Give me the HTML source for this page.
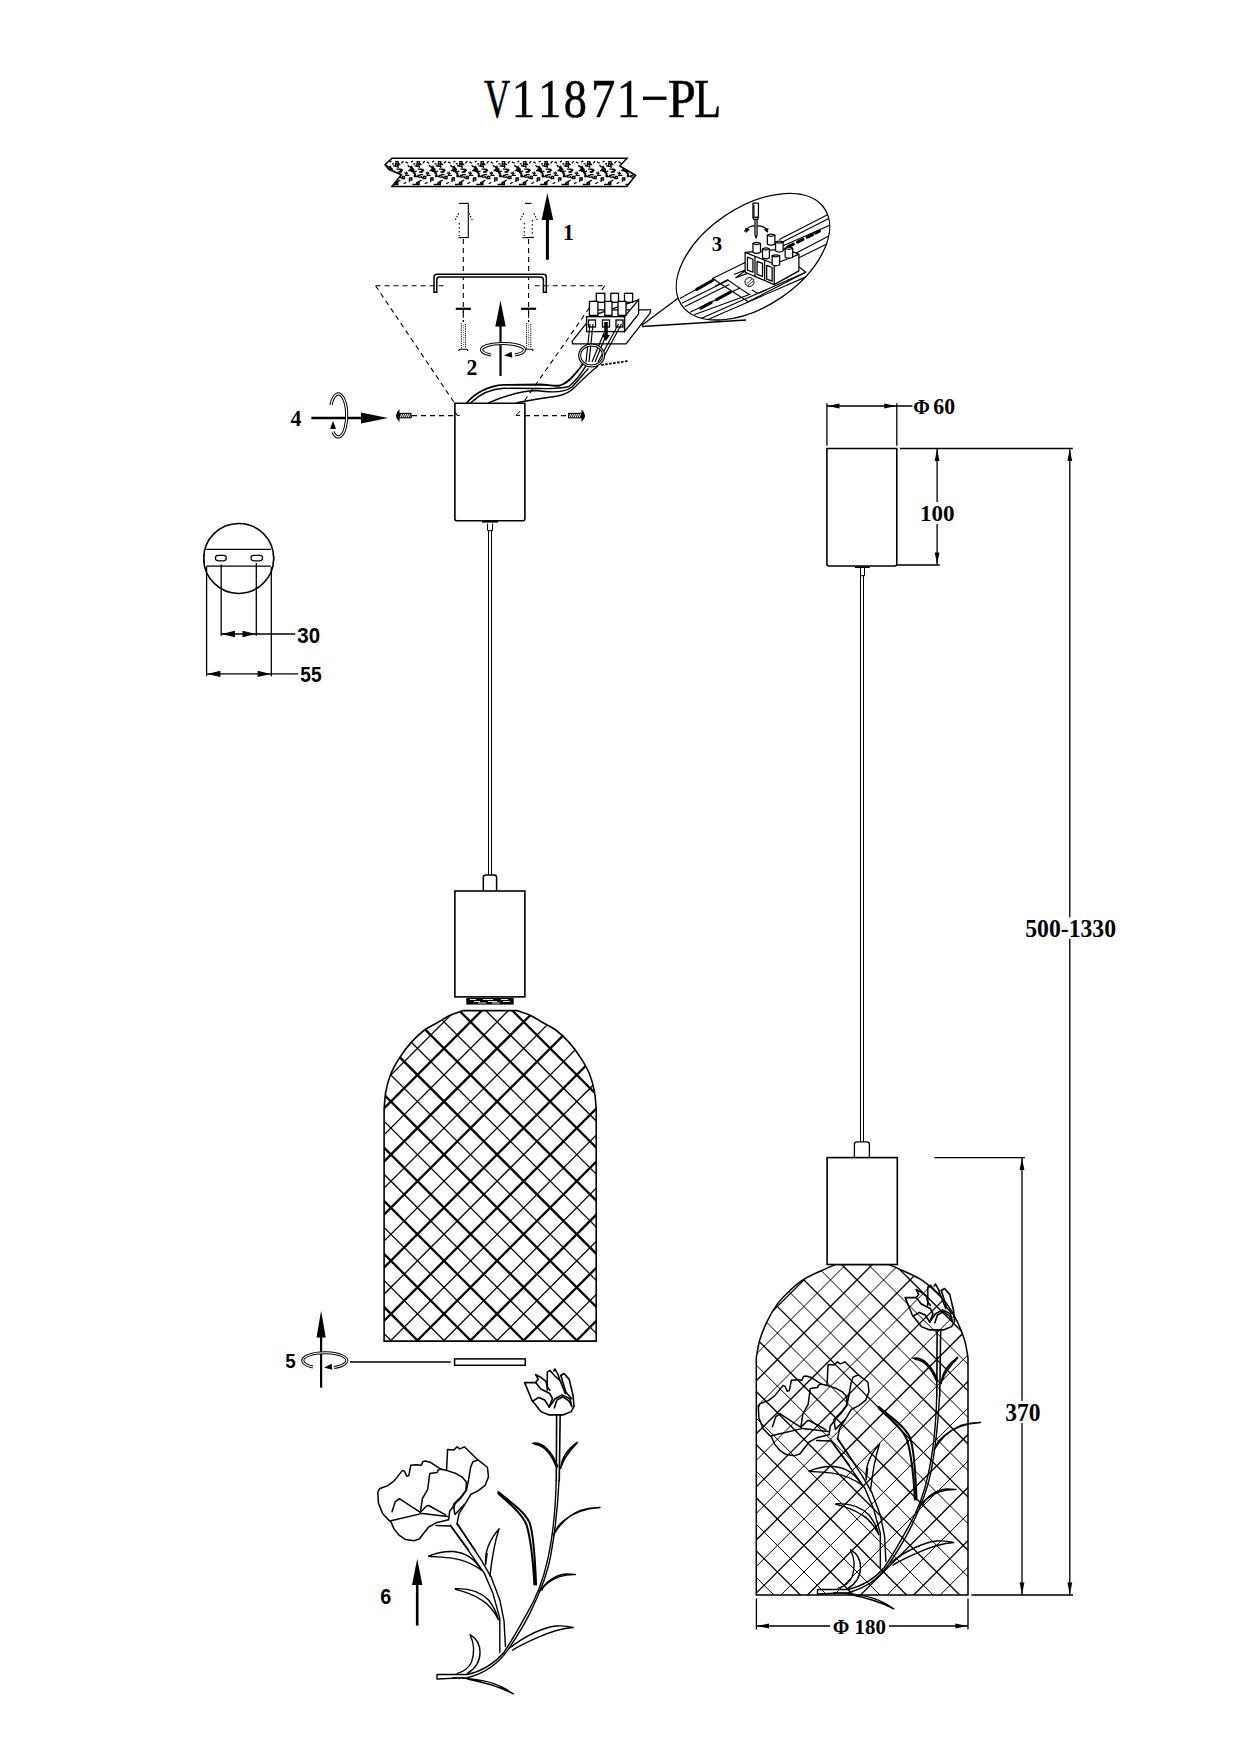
<!DOCTYPE html>
<html><head><meta charset="utf-8"><style>
html,body{margin:0;padding:0;background:#fff;}
svg{display:block;}
.ser{font-family:"Liberation Serif",serif;}
.sans{font-family:"Liberation Sans",sans-serif;}

</style></head><body>
<svg width="1240" height="1754" viewBox="0 0 1240 1754">
<rect width="1240" height="1754" fill="#fff"/>

<defs>
<clipPath id="clipL"><path d="M384.1,1341.1 L384.1,1109.4 C384.38,1106.48 384.72,1097.72 385.80,1091.90 C386.88,1086.08 388.33,1080.13 390.60,1074.50 C392.87,1068.87 396.00,1063.42 399.40,1058.10 C402.80,1052.78 406.82,1047.28 411.00,1042.60 C415.18,1037.92 419.98,1033.38 424.50,1030.00 C429.02,1026.62 433.90,1024.72 438.10,1022.30 C442.30,1019.88 445.52,1017.45 449.70,1015.50 C453.88,1013.55 460.95,1011.42 463.20,1010.60 L517.10,1010.6 C519.35,1011.42 526.42,1013.55 530.60,1015.50 C534.78,1017.45 538.00,1019.88 542.20,1022.30 C546.40,1024.72 551.28,1026.62 555.80,1030.00 C560.32,1033.38 565.12,1037.92 569.30,1042.60 C573.48,1047.28 577.50,1052.78 580.90,1058.10 C584.30,1063.42 587.43,1068.87 589.70,1074.50 C591.97,1080.13 593.42,1086.08 594.50,1091.90 C595.58,1097.72 595.92,1106.48 596.20,1109.40 L596.2,1341.1 Z"/></clipPath>
<clipPath id="clipR"><path d="M756.3,1595 L756.3,1357.6 C756.87,1354.70 757.93,1346.17 759.70,1340.20 C761.47,1334.23 764.00,1327.77 766.90,1321.80 C769.80,1315.83 773.30,1309.57 777.10,1304.40 C780.90,1299.23 785.35,1294.92 789.70,1290.80 C794.05,1286.68 798.05,1283.00 803.20,1279.70 C808.35,1276.40 815.27,1273.52 820.60,1271.00 C825.93,1268.48 832.77,1265.67 835.20,1264.60 L889.10,1264.6 C891.53,1265.67 898.37,1268.48 903.70,1271.00 C909.03,1273.52 915.95,1276.40 921.10,1279.70 C926.25,1283.00 930.25,1286.68 934.60,1290.80 C938.95,1294.92 943.40,1299.23 947.20,1304.40 C951.00,1309.57 954.50,1315.83 957.40,1321.80 C960.30,1327.77 962.83,1334.23 964.60,1340.20 C966.37,1346.17 967.43,1354.70 968.00,1357.60 L968.0,1595 Z"/></clipPath>
<clipPath id="clipPlate"><path d="M392.1,158.2 L626.9,158.2 L619.7,166 L635.6,175.2 L626.9,186.5 L392.1,186.5 L401.3,174.7 L388.7,169.4 L385.1,164.5 Z"/></clipPath>
<clipPath id="clipEll"><ellipse cx="753" cy="256.7" rx="86.2" ry="49.6" transform="rotate(-33.9 753 256.7)"/></clipPath>
</defs>
<text transform="translate(497,117) scale(0.66,1)" text-anchor="middle" class="ser" font-size="55" stroke="#000" stroke-width="0.5">V</text><text transform="translate(523.4,117) scale(0.85,1)" text-anchor="middle" class="ser" font-size="55" stroke="#000" stroke-width="0.5">1</text><text transform="translate(549.6,117) scale(0.85,1)" text-anchor="middle" class="ser" font-size="55" stroke="#000" stroke-width="0.5">1</text><text transform="translate(575.4,117) scale(0.84,1)" text-anchor="middle" class="ser" font-size="55" stroke="#000" stroke-width="0.5">8</text><text transform="translate(603.2,117) scale(0.88,1)" text-anchor="middle" class="ser" font-size="55" stroke="#000" stroke-width="0.5">7</text><text transform="translate(628.4,117) scale(0.85,1)" text-anchor="middle" class="ser" font-size="55" stroke="#000" stroke-width="0.5">1</text><rect x="642.9" y="96.6" width="23.6" height="3.3" fill="#000"/><text transform="translate(681.8,117) scale(0.92,1)" text-anchor="middle" class="ser" font-size="55" stroke="#000" stroke-width="0.5">P</text><text transform="translate(707.7,117) scale(0.8,1)" text-anchor="middle" class="ser" font-size="55" stroke="#000" stroke-width="0.5">L</text>
<g clip-path="url(#clipL)" stroke="#000" fill="none"><line x1="380.00" y1="745.45" x2="600.00" y2="965.45" stroke-width="1.3"/><line x1="380.00" y1="772.00" x2="600.00" y2="992.00" stroke-width="2.3"/><line x1="380.00" y1="798.55" x2="600.00" y2="1018.55" stroke-width="1.3"/><line x1="380.00" y1="825.10" x2="600.00" y2="1045.10" stroke-width="2.3"/><line x1="380.00" y1="851.65" x2="600.00" y2="1071.65" stroke-width="1.3"/><line x1="380.00" y1="878.20" x2="600.00" y2="1098.20" stroke-width="2.3"/><line x1="380.00" y1="904.75" x2="600.00" y2="1124.75" stroke-width="1.3"/><line x1="380.00" y1="931.30" x2="600.00" y2="1151.30" stroke-width="2.3"/><line x1="380.00" y1="957.85" x2="600.00" y2="1177.85" stroke-width="1.3"/><line x1="380.00" y1="984.40" x2="600.00" y2="1204.40" stroke-width="2.3"/><line x1="380.00" y1="1010.95" x2="600.00" y2="1230.95" stroke-width="1.3"/><line x1="380.00" y1="1037.50" x2="600.00" y2="1257.50" stroke-width="2.3"/><line x1="380.00" y1="1064.05" x2="600.00" y2="1284.05" stroke-width="1.3"/><line x1="380.00" y1="1090.60" x2="600.00" y2="1310.60" stroke-width="2.3"/><line x1="380.00" y1="1117.15" x2="600.00" y2="1337.15" stroke-width="1.3"/><line x1="380.00" y1="1143.70" x2="600.00" y2="1363.70" stroke-width="2.3"/><line x1="380.00" y1="1170.25" x2="600.00" y2="1390.25" stroke-width="1.3"/><line x1="380.00" y1="1196.80" x2="600.00" y2="1416.80" stroke-width="2.3"/><line x1="380.00" y1="1223.35" x2="600.00" y2="1443.35" stroke-width="1.3"/><line x1="380.00" y1="1249.90" x2="600.00" y2="1469.90" stroke-width="2.3"/><line x1="380.00" y1="1276.45" x2="600.00" y2="1496.45" stroke-width="1.3"/><line x1="380.00" y1="1303.00" x2="600.00" y2="1523.00" stroke-width="2.3"/><line x1="380.00" y1="1329.55" x2="600.00" y2="1549.55" stroke-width="1.3"/><line x1="380.00" y1="1356.10" x2="600.00" y2="1576.10" stroke-width="2.3"/><line x1="380.00" y1="1382.65" x2="600.00" y2="1602.65" stroke-width="1.3"/><line x1="380.00" y1="953.10" x2="600.00" y2="733.10" stroke-width="2.3"/><line x1="380.00" y1="979.65" x2="600.00" y2="759.65" stroke-width="1.3"/><line x1="380.00" y1="1006.20" x2="600.00" y2="786.20" stroke-width="2.3"/><line x1="380.00" y1="1032.75" x2="600.00" y2="812.75" stroke-width="1.3"/><line x1="380.00" y1="1059.30" x2="600.00" y2="839.30" stroke-width="2.3"/><line x1="380.00" y1="1085.85" x2="600.00" y2="865.85" stroke-width="1.3"/><line x1="380.00" y1="1112.40" x2="600.00" y2="892.40" stroke-width="2.3"/><line x1="380.00" y1="1138.95" x2="600.00" y2="918.95" stroke-width="1.3"/><line x1="380.00" y1="1165.50" x2="600.00" y2="945.50" stroke-width="2.3"/><line x1="380.00" y1="1192.05" x2="600.00" y2="972.05" stroke-width="1.3"/><line x1="380.00" y1="1218.60" x2="600.00" y2="998.60" stroke-width="2.3"/><line x1="380.00" y1="1245.15" x2="600.00" y2="1025.15" stroke-width="1.3"/><line x1="380.00" y1="1271.70" x2="600.00" y2="1051.70" stroke-width="2.3"/><line x1="380.00" y1="1298.25" x2="600.00" y2="1078.25" stroke-width="1.3"/><line x1="380.00" y1="1324.80" x2="600.00" y2="1104.80" stroke-width="2.3"/><line x1="380.00" y1="1351.35" x2="600.00" y2="1131.35" stroke-width="1.3"/><line x1="380.00" y1="1377.90" x2="600.00" y2="1157.90" stroke-width="2.3"/><line x1="380.00" y1="1404.45" x2="600.00" y2="1184.45" stroke-width="1.3"/><line x1="380.00" y1="1431.00" x2="600.00" y2="1211.00" stroke-width="2.3"/><line x1="380.00" y1="1457.55" x2="600.00" y2="1237.55" stroke-width="1.3"/><line x1="380.00" y1="1484.10" x2="600.00" y2="1264.10" stroke-width="2.3"/><line x1="380.00" y1="1510.65" x2="600.00" y2="1290.65" stroke-width="1.3"/><line x1="380.00" y1="1537.20" x2="600.00" y2="1317.20" stroke-width="2.3"/><line x1="380.00" y1="1563.75" x2="600.00" y2="1343.75" stroke-width="1.3"/><line x1="380.00" y1="1590.30" x2="600.00" y2="1370.30" stroke-width="2.3"/><line x1="380.00" y1="1616.85" x2="600.00" y2="1396.85" stroke-width="1.3"/></g>
<path d="M384.1,1341.1 L384.1,1109.4 C384.38,1106.48 384.72,1097.72 385.80,1091.90 C386.88,1086.08 388.33,1080.13 390.60,1074.50 C392.87,1068.87 396.00,1063.42 399.40,1058.10 C402.80,1052.78 406.82,1047.28 411.00,1042.60 C415.18,1037.92 419.98,1033.38 424.50,1030.00 C429.02,1026.62 433.90,1024.72 438.10,1022.30 C442.30,1019.88 445.52,1017.45 449.70,1015.50 C453.88,1013.55 460.95,1011.42 463.20,1010.60 L517.10,1010.6 C519.35,1011.42 526.42,1013.55 530.60,1015.50 C534.78,1017.45 538.00,1019.88 542.20,1022.30 C546.40,1024.72 551.28,1026.62 555.80,1030.00 C560.32,1033.38 565.12,1037.92 569.30,1042.60 C573.48,1047.28 577.50,1052.78 580.90,1058.10 C584.30,1063.42 587.43,1068.87 589.70,1074.50 C591.97,1080.13 593.42,1086.08 594.50,1091.90 C595.58,1097.72 595.92,1106.48 596.20,1109.40 L596.2,1341.1 Z" fill="none" stroke="#000" stroke-width="1.6"/>
<g clip-path="url(#clipR)" stroke="#000" fill="none"><line x1="750.00" y1="987.05" x2="972.00" y2="1209.05" stroke-width="1.0"/><line x1="750.00" y1="1013.60" x2="972.00" y2="1235.60" stroke-width="1.35"/><line x1="750.00" y1="1040.15" x2="972.00" y2="1262.15" stroke-width="1.0"/><line x1="750.00" y1="1066.70" x2="972.00" y2="1288.70" stroke-width="1.35"/><line x1="750.00" y1="1093.25" x2="972.00" y2="1315.25" stroke-width="1.0"/><line x1="750.00" y1="1119.80" x2="972.00" y2="1341.80" stroke-width="1.35"/><line x1="750.00" y1="1146.35" x2="972.00" y2="1368.35" stroke-width="1.0"/><line x1="750.00" y1="1172.90" x2="972.00" y2="1394.90" stroke-width="1.35"/><line x1="750.00" y1="1199.45" x2="972.00" y2="1421.45" stroke-width="1.0"/><line x1="750.00" y1="1226.00" x2="972.00" y2="1448.00" stroke-width="1.35"/><line x1="750.00" y1="1252.55" x2="972.00" y2="1474.55" stroke-width="1.0"/><line x1="750.00" y1="1279.10" x2="972.00" y2="1501.10" stroke-width="1.35"/><line x1="750.00" y1="1305.65" x2="972.00" y2="1527.65" stroke-width="1.0"/><line x1="750.00" y1="1332.20" x2="972.00" y2="1554.20" stroke-width="1.35"/><line x1="750.00" y1="1358.75" x2="972.00" y2="1580.75" stroke-width="1.0"/><line x1="750.00" y1="1385.30" x2="972.00" y2="1607.30" stroke-width="1.35"/><line x1="750.00" y1="1411.85" x2="972.00" y2="1633.85" stroke-width="1.0"/><line x1="750.00" y1="1438.40" x2="972.00" y2="1660.40" stroke-width="1.35"/><line x1="750.00" y1="1464.95" x2="972.00" y2="1686.95" stroke-width="1.0"/><line x1="750.00" y1="1491.50" x2="972.00" y2="1713.50" stroke-width="1.35"/><line x1="750.00" y1="1518.05" x2="972.00" y2="1740.05" stroke-width="1.0"/><line x1="750.00" y1="1544.60" x2="972.00" y2="1766.60" stroke-width="1.35"/><line x1="750.00" y1="1571.15" x2="972.00" y2="1793.15" stroke-width="1.0"/><line x1="750.00" y1="1597.70" x2="972.00" y2="1819.70" stroke-width="1.35"/><line x1="750.00" y1="1624.25" x2="972.00" y2="1846.25" stroke-width="1.0"/><line x1="750.00" y1="1650.80" x2="972.00" y2="1872.80" stroke-width="1.35"/><line x1="750.00" y1="1227.65" x2="972.00" y2="1005.65" stroke-width="1.35"/><line x1="750.00" y1="1254.20" x2="972.00" y2="1032.20" stroke-width="1.0"/><line x1="750.00" y1="1280.75" x2="972.00" y2="1058.75" stroke-width="1.35"/><line x1="750.00" y1="1307.30" x2="972.00" y2="1085.30" stroke-width="1.0"/><line x1="750.00" y1="1333.85" x2="972.00" y2="1111.85" stroke-width="1.35"/><line x1="750.00" y1="1360.40" x2="972.00" y2="1138.40" stroke-width="1.0"/><line x1="750.00" y1="1386.95" x2="972.00" y2="1164.95" stroke-width="1.35"/><line x1="750.00" y1="1413.50" x2="972.00" y2="1191.50" stroke-width="1.0"/><line x1="750.00" y1="1440.05" x2="972.00" y2="1218.05" stroke-width="1.35"/><line x1="750.00" y1="1466.60" x2="972.00" y2="1244.60" stroke-width="1.0"/><line x1="750.00" y1="1493.15" x2="972.00" y2="1271.15" stroke-width="1.35"/><line x1="750.00" y1="1519.70" x2="972.00" y2="1297.70" stroke-width="1.0"/><line x1="750.00" y1="1546.25" x2="972.00" y2="1324.25" stroke-width="1.35"/><line x1="750.00" y1="1572.80" x2="972.00" y2="1350.80" stroke-width="1.0"/><line x1="750.00" y1="1599.35" x2="972.00" y2="1377.35" stroke-width="1.35"/><line x1="750.00" y1="1625.90" x2="972.00" y2="1403.90" stroke-width="1.0"/><line x1="750.00" y1="1652.45" x2="972.00" y2="1430.45" stroke-width="1.35"/><line x1="750.00" y1="1679.00" x2="972.00" y2="1457.00" stroke-width="1.0"/><line x1="750.00" y1="1705.55" x2="972.00" y2="1483.55" stroke-width="1.35"/><line x1="750.00" y1="1732.10" x2="972.00" y2="1510.10" stroke-width="1.0"/><line x1="750.00" y1="1758.65" x2="972.00" y2="1536.65" stroke-width="1.35"/><line x1="750.00" y1="1785.20" x2="972.00" y2="1563.20" stroke-width="1.0"/><line x1="750.00" y1="1811.75" x2="972.00" y2="1589.75" stroke-width="1.35"/><line x1="750.00" y1="1838.30" x2="972.00" y2="1616.30" stroke-width="1.0"/><line x1="750.00" y1="1864.85" x2="972.00" y2="1642.85" stroke-width="1.35"/></g>
<path d="M756.3,1595 L756.3,1357.6 C756.87,1354.70 757.93,1346.17 759.70,1340.20 C761.47,1334.23 764.00,1327.77 766.90,1321.80 C769.80,1315.83 773.30,1309.57 777.10,1304.40 C780.90,1299.23 785.35,1294.92 789.70,1290.80 C794.05,1286.68 798.05,1283.00 803.20,1279.70 C808.35,1276.40 815.27,1273.52 820.60,1271.00 C825.93,1268.48 832.77,1265.67 835.20,1264.60 L889.10,1264.6 C891.53,1265.67 898.37,1268.48 903.70,1271.00 C909.03,1273.52 915.95,1276.40 921.10,1279.70 C926.25,1283.00 930.25,1286.68 934.60,1290.80 C938.95,1294.92 943.40,1299.23 947.20,1304.40 C951.00,1309.57 954.50,1315.83 957.40,1321.80 C960.30,1327.77 962.83,1334.23 964.60,1340.20 C966.37,1346.17 967.43,1354.70 968.00,1357.60 L968.0,1595 Z" fill="none" stroke="#000" stroke-width="1.5"/>
<path d="M392.1,158.2 L626.9,158.2 L619.7,166 L635.6,175.2 L626.9,186.5 L392.1,186.5 L401.3,174.7 L388.7,169.4 L385.1,164.5 Z" fill="#fff" stroke="#000" stroke-width="1.6"/>
<g clip-path="url(#clipPlate)" stroke="#000" fill="none"><path transform="translate(385.0,158)" d="M6.9,5.8 l2.2,0.0 M11.4,11.1 l4.3,0.0 M4.6,4.1 l1.9,-1.1 M1.9,12.6 l4.4,0.0 M13.4,16.6 l3.4,0.0 M8.4,26.4 l3.4,0.0 M2.8,12.5 l3.4,0.0 M11.9,19.1 l3.5,0.0 M13.6,11.3 l3.4,0.0 M13.2,14.4 l3.4,-2.0 M9.9,25.1 l2.4,1.4 M16.9,19.5 l1.6,-1.6 M6.4,14.4 l3.3,1.9 M6.1,26.5 l3.3,0.0 M3.5,10.6 l1.5,2.6 M20.5,3.9 l2.5,1.4 M7.5,14.4 l1.1,1.9 M2.0,8.7 l2.2,0.0 M14.9,18.2 l1.4,2.3 M8.2,18.7 l4.4,0.0 M7.6,17.3 l1.1,1.9 M16.4,5.2 l2.1,-2.1 M19.5,14.4 l2.2,2.2 M11.7,24.1 l3.6,-2.1 M5.9,12.4 l3.2,1.9 M8.1,7.8 l2.4,0.0 M4.9,7.8 l2.0,3.5 M3.9,9.0 l2.2,2.2 M7.9,16.2 l2.6,2.6 M11.0,17.4 l3.1,0.0 M18.6,25.8 l2.6,-1.5 M8.4,14.0 l1.9,-1.1 M1.4,7.2 l1.6,1.6 M12.8,4.6 l2.4,2.4 M20.2,17.3 l4.2,0.0 M13.1,5.7 l0.0,4.4 M12.8,13.9 l4.1,0.0 M21.2,13.6 l1.4,2.4 M3.1,20.7 l0.0,3.2 M14.7,14.9 l3.1,-3.1 M10.6,6.2 h2.2 v2.2 h-2.2 z M10.9,3.6 h2.2 v2.2 h-2.2 z M10.6,24.5 h2.2 v2.2 h-2.2 z M17.3,18.3 h2.2 v2.2 h-2.2 z M5.2,11.1 h2.2 v2.2 h-2.2 z M3.3,20.0 h2.2 v2.2 h-2.2 z" stroke-width="1.3"/><path transform="translate(406.3,158)" d="M6.9,5.8 l2.2,0.0 M11.4,11.1 l4.3,0.0 M4.6,4.1 l1.9,-1.1 M1.9,12.6 l4.4,0.0 M13.4,16.6 l3.4,0.0 M8.4,26.4 l3.4,0.0 M2.8,12.5 l3.4,0.0 M11.9,19.1 l3.5,0.0 M13.6,11.3 l3.4,0.0 M13.2,14.4 l3.4,-2.0 M9.9,25.1 l2.4,1.4 M16.9,19.5 l1.6,-1.6 M6.4,14.4 l3.3,1.9 M6.1,26.5 l3.3,0.0 M3.5,10.6 l1.5,2.6 M20.5,3.9 l2.5,1.4 M7.5,14.4 l1.1,1.9 M2.0,8.7 l2.2,0.0 M14.9,18.2 l1.4,2.3 M8.2,18.7 l4.4,0.0 M7.6,17.3 l1.1,1.9 M16.4,5.2 l2.1,-2.1 M19.5,14.4 l2.2,2.2 M11.7,24.1 l3.6,-2.1 M5.9,12.4 l3.2,1.9 M8.1,7.8 l2.4,0.0 M4.9,7.8 l2.0,3.5 M3.9,9.0 l2.2,2.2 M7.9,16.2 l2.6,2.6 M11.0,17.4 l3.1,0.0 M18.6,25.8 l2.6,-1.5 M8.4,14.0 l1.9,-1.1 M1.4,7.2 l1.6,1.6 M12.8,4.6 l2.4,2.4 M20.2,17.3 l4.2,0.0 M13.1,5.7 l0.0,4.4 M12.8,13.9 l4.1,0.0 M21.2,13.6 l1.4,2.4 M3.1,20.7 l0.0,3.2 M14.7,14.9 l3.1,-3.1 M10.6,6.2 h2.2 v2.2 h-2.2 z M10.9,3.6 h2.2 v2.2 h-2.2 z M10.6,24.5 h2.2 v2.2 h-2.2 z M17.3,18.3 h2.2 v2.2 h-2.2 z M5.2,11.1 h2.2 v2.2 h-2.2 z M3.3,20.0 h2.2 v2.2 h-2.2 z" stroke-width="1.3"/><path transform="translate(427.6,158)" d="M6.9,5.8 l2.2,0.0 M11.4,11.1 l4.3,0.0 M4.6,4.1 l1.9,-1.1 M1.9,12.6 l4.4,0.0 M13.4,16.6 l3.4,0.0 M8.4,26.4 l3.4,0.0 M2.8,12.5 l3.4,0.0 M11.9,19.1 l3.5,0.0 M13.6,11.3 l3.4,0.0 M13.2,14.4 l3.4,-2.0 M9.9,25.1 l2.4,1.4 M16.9,19.5 l1.6,-1.6 M6.4,14.4 l3.3,1.9 M6.1,26.5 l3.3,0.0 M3.5,10.6 l1.5,2.6 M20.5,3.9 l2.5,1.4 M7.5,14.4 l1.1,1.9 M2.0,8.7 l2.2,0.0 M14.9,18.2 l1.4,2.3 M8.2,18.7 l4.4,0.0 M7.6,17.3 l1.1,1.9 M16.4,5.2 l2.1,-2.1 M19.5,14.4 l2.2,2.2 M11.7,24.1 l3.6,-2.1 M5.9,12.4 l3.2,1.9 M8.1,7.8 l2.4,0.0 M4.9,7.8 l2.0,3.5 M3.9,9.0 l2.2,2.2 M7.9,16.2 l2.6,2.6 M11.0,17.4 l3.1,0.0 M18.6,25.8 l2.6,-1.5 M8.4,14.0 l1.9,-1.1 M1.4,7.2 l1.6,1.6 M12.8,4.6 l2.4,2.4 M20.2,17.3 l4.2,0.0 M13.1,5.7 l0.0,4.4 M12.8,13.9 l4.1,0.0 M21.2,13.6 l1.4,2.4 M3.1,20.7 l0.0,3.2 M14.7,14.9 l3.1,-3.1 M10.6,6.2 h2.2 v2.2 h-2.2 z M10.9,3.6 h2.2 v2.2 h-2.2 z M10.6,24.5 h2.2 v2.2 h-2.2 z M17.3,18.3 h2.2 v2.2 h-2.2 z M5.2,11.1 h2.2 v2.2 h-2.2 z M3.3,20.0 h2.2 v2.2 h-2.2 z" stroke-width="1.3"/><path transform="translate(448.9,158)" d="M6.9,5.8 l2.2,0.0 M11.4,11.1 l4.3,0.0 M4.6,4.1 l1.9,-1.1 M1.9,12.6 l4.4,0.0 M13.4,16.6 l3.4,0.0 M8.4,26.4 l3.4,0.0 M2.8,12.5 l3.4,0.0 M11.9,19.1 l3.5,0.0 M13.6,11.3 l3.4,0.0 M13.2,14.4 l3.4,-2.0 M9.9,25.1 l2.4,1.4 M16.9,19.5 l1.6,-1.6 M6.4,14.4 l3.3,1.9 M6.1,26.5 l3.3,0.0 M3.5,10.6 l1.5,2.6 M20.5,3.9 l2.5,1.4 M7.5,14.4 l1.1,1.9 M2.0,8.7 l2.2,0.0 M14.9,18.2 l1.4,2.3 M8.2,18.7 l4.4,0.0 M7.6,17.3 l1.1,1.9 M16.4,5.2 l2.1,-2.1 M19.5,14.4 l2.2,2.2 M11.7,24.1 l3.6,-2.1 M5.9,12.4 l3.2,1.9 M8.1,7.8 l2.4,0.0 M4.9,7.8 l2.0,3.5 M3.9,9.0 l2.2,2.2 M7.9,16.2 l2.6,2.6 M11.0,17.4 l3.1,0.0 M18.6,25.8 l2.6,-1.5 M8.4,14.0 l1.9,-1.1 M1.4,7.2 l1.6,1.6 M12.8,4.6 l2.4,2.4 M20.2,17.3 l4.2,0.0 M13.1,5.7 l0.0,4.4 M12.8,13.9 l4.1,0.0 M21.2,13.6 l1.4,2.4 M3.1,20.7 l0.0,3.2 M14.7,14.9 l3.1,-3.1 M10.6,6.2 h2.2 v2.2 h-2.2 z M10.9,3.6 h2.2 v2.2 h-2.2 z M10.6,24.5 h2.2 v2.2 h-2.2 z M17.3,18.3 h2.2 v2.2 h-2.2 z M5.2,11.1 h2.2 v2.2 h-2.2 z M3.3,20.0 h2.2 v2.2 h-2.2 z" stroke-width="1.3"/><path transform="translate(470.2,158)" d="M6.9,5.8 l2.2,0.0 M11.4,11.1 l4.3,0.0 M4.6,4.1 l1.9,-1.1 M1.9,12.6 l4.4,0.0 M13.4,16.6 l3.4,0.0 M8.4,26.4 l3.4,0.0 M2.8,12.5 l3.4,0.0 M11.9,19.1 l3.5,0.0 M13.6,11.3 l3.4,0.0 M13.2,14.4 l3.4,-2.0 M9.9,25.1 l2.4,1.4 M16.9,19.5 l1.6,-1.6 M6.4,14.4 l3.3,1.9 M6.1,26.5 l3.3,0.0 M3.5,10.6 l1.5,2.6 M20.5,3.9 l2.5,1.4 M7.5,14.4 l1.1,1.9 M2.0,8.7 l2.2,0.0 M14.9,18.2 l1.4,2.3 M8.2,18.7 l4.4,0.0 M7.6,17.3 l1.1,1.9 M16.4,5.2 l2.1,-2.1 M19.5,14.4 l2.2,2.2 M11.7,24.1 l3.6,-2.1 M5.9,12.4 l3.2,1.9 M8.1,7.8 l2.4,0.0 M4.9,7.8 l2.0,3.5 M3.9,9.0 l2.2,2.2 M7.9,16.2 l2.6,2.6 M11.0,17.4 l3.1,0.0 M18.6,25.8 l2.6,-1.5 M8.4,14.0 l1.9,-1.1 M1.4,7.2 l1.6,1.6 M12.8,4.6 l2.4,2.4 M20.2,17.3 l4.2,0.0 M13.1,5.7 l0.0,4.4 M12.8,13.9 l4.1,0.0 M21.2,13.6 l1.4,2.4 M3.1,20.7 l0.0,3.2 M14.7,14.9 l3.1,-3.1 M10.6,6.2 h2.2 v2.2 h-2.2 z M10.9,3.6 h2.2 v2.2 h-2.2 z M10.6,24.5 h2.2 v2.2 h-2.2 z M17.3,18.3 h2.2 v2.2 h-2.2 z M5.2,11.1 h2.2 v2.2 h-2.2 z M3.3,20.0 h2.2 v2.2 h-2.2 z" stroke-width="1.3"/><path transform="translate(491.5,158)" d="M6.9,5.8 l2.2,0.0 M11.4,11.1 l4.3,0.0 M4.6,4.1 l1.9,-1.1 M1.9,12.6 l4.4,0.0 M13.4,16.6 l3.4,0.0 M8.4,26.4 l3.4,0.0 M2.8,12.5 l3.4,0.0 M11.9,19.1 l3.5,0.0 M13.6,11.3 l3.4,0.0 M13.2,14.4 l3.4,-2.0 M9.9,25.1 l2.4,1.4 M16.9,19.5 l1.6,-1.6 M6.4,14.4 l3.3,1.9 M6.1,26.5 l3.3,0.0 M3.5,10.6 l1.5,2.6 M20.5,3.9 l2.5,1.4 M7.5,14.4 l1.1,1.9 M2.0,8.7 l2.2,0.0 M14.9,18.2 l1.4,2.3 M8.2,18.7 l4.4,0.0 M7.6,17.3 l1.1,1.9 M16.4,5.2 l2.1,-2.1 M19.5,14.4 l2.2,2.2 M11.7,24.1 l3.6,-2.1 M5.9,12.4 l3.2,1.9 M8.1,7.8 l2.4,0.0 M4.9,7.8 l2.0,3.5 M3.9,9.0 l2.2,2.2 M7.9,16.2 l2.6,2.6 M11.0,17.4 l3.1,0.0 M18.6,25.8 l2.6,-1.5 M8.4,14.0 l1.9,-1.1 M1.4,7.2 l1.6,1.6 M12.8,4.6 l2.4,2.4 M20.2,17.3 l4.2,0.0 M13.1,5.7 l0.0,4.4 M12.8,13.9 l4.1,0.0 M21.2,13.6 l1.4,2.4 M3.1,20.7 l0.0,3.2 M14.7,14.9 l3.1,-3.1 M10.6,6.2 h2.2 v2.2 h-2.2 z M10.9,3.6 h2.2 v2.2 h-2.2 z M10.6,24.5 h2.2 v2.2 h-2.2 z M17.3,18.3 h2.2 v2.2 h-2.2 z M5.2,11.1 h2.2 v2.2 h-2.2 z M3.3,20.0 h2.2 v2.2 h-2.2 z" stroke-width="1.3"/><path transform="translate(512.8,158)" d="M6.9,5.8 l2.2,0.0 M11.4,11.1 l4.3,0.0 M4.6,4.1 l1.9,-1.1 M1.9,12.6 l4.4,0.0 M13.4,16.6 l3.4,0.0 M8.4,26.4 l3.4,0.0 M2.8,12.5 l3.4,0.0 M11.9,19.1 l3.5,0.0 M13.6,11.3 l3.4,0.0 M13.2,14.4 l3.4,-2.0 M9.9,25.1 l2.4,1.4 M16.9,19.5 l1.6,-1.6 M6.4,14.4 l3.3,1.9 M6.1,26.5 l3.3,0.0 M3.5,10.6 l1.5,2.6 M20.5,3.9 l2.5,1.4 M7.5,14.4 l1.1,1.9 M2.0,8.7 l2.2,0.0 M14.9,18.2 l1.4,2.3 M8.2,18.7 l4.4,0.0 M7.6,17.3 l1.1,1.9 M16.4,5.2 l2.1,-2.1 M19.5,14.4 l2.2,2.2 M11.7,24.1 l3.6,-2.1 M5.9,12.4 l3.2,1.9 M8.1,7.8 l2.4,0.0 M4.9,7.8 l2.0,3.5 M3.9,9.0 l2.2,2.2 M7.9,16.2 l2.6,2.6 M11.0,17.4 l3.1,0.0 M18.6,25.8 l2.6,-1.5 M8.4,14.0 l1.9,-1.1 M1.4,7.2 l1.6,1.6 M12.8,4.6 l2.4,2.4 M20.2,17.3 l4.2,0.0 M13.1,5.7 l0.0,4.4 M12.8,13.9 l4.1,0.0 M21.2,13.6 l1.4,2.4 M3.1,20.7 l0.0,3.2 M14.7,14.9 l3.1,-3.1 M10.6,6.2 h2.2 v2.2 h-2.2 z M10.9,3.6 h2.2 v2.2 h-2.2 z M10.6,24.5 h2.2 v2.2 h-2.2 z M17.3,18.3 h2.2 v2.2 h-2.2 z M5.2,11.1 h2.2 v2.2 h-2.2 z M3.3,20.0 h2.2 v2.2 h-2.2 z" stroke-width="1.3"/><path transform="translate(534.1,158)" d="M6.9,5.8 l2.2,0.0 M11.4,11.1 l4.3,0.0 M4.6,4.1 l1.9,-1.1 M1.9,12.6 l4.4,0.0 M13.4,16.6 l3.4,0.0 M8.4,26.4 l3.4,0.0 M2.8,12.5 l3.4,0.0 M11.9,19.1 l3.5,0.0 M13.6,11.3 l3.4,0.0 M13.2,14.4 l3.4,-2.0 M9.9,25.1 l2.4,1.4 M16.9,19.5 l1.6,-1.6 M6.4,14.4 l3.3,1.9 M6.1,26.5 l3.3,0.0 M3.5,10.6 l1.5,2.6 M20.5,3.9 l2.5,1.4 M7.5,14.4 l1.1,1.9 M2.0,8.7 l2.2,0.0 M14.9,18.2 l1.4,2.3 M8.2,18.7 l4.4,0.0 M7.6,17.3 l1.1,1.9 M16.4,5.2 l2.1,-2.1 M19.5,14.4 l2.2,2.2 M11.7,24.1 l3.6,-2.1 M5.9,12.4 l3.2,1.9 M8.1,7.8 l2.4,0.0 M4.9,7.8 l2.0,3.5 M3.9,9.0 l2.2,2.2 M7.9,16.2 l2.6,2.6 M11.0,17.4 l3.1,0.0 M18.6,25.8 l2.6,-1.5 M8.4,14.0 l1.9,-1.1 M1.4,7.2 l1.6,1.6 M12.8,4.6 l2.4,2.4 M20.2,17.3 l4.2,0.0 M13.1,5.7 l0.0,4.4 M12.8,13.9 l4.1,0.0 M21.2,13.6 l1.4,2.4 M3.1,20.7 l0.0,3.2 M14.7,14.9 l3.1,-3.1 M10.6,6.2 h2.2 v2.2 h-2.2 z M10.9,3.6 h2.2 v2.2 h-2.2 z M10.6,24.5 h2.2 v2.2 h-2.2 z M17.3,18.3 h2.2 v2.2 h-2.2 z M5.2,11.1 h2.2 v2.2 h-2.2 z M3.3,20.0 h2.2 v2.2 h-2.2 z" stroke-width="1.3"/><path transform="translate(555.4,158)" d="M6.9,5.8 l2.2,0.0 M11.4,11.1 l4.3,0.0 M4.6,4.1 l1.9,-1.1 M1.9,12.6 l4.4,0.0 M13.4,16.6 l3.4,0.0 M8.4,26.4 l3.4,0.0 M2.8,12.5 l3.4,0.0 M11.9,19.1 l3.5,0.0 M13.6,11.3 l3.4,0.0 M13.2,14.4 l3.4,-2.0 M9.9,25.1 l2.4,1.4 M16.9,19.5 l1.6,-1.6 M6.4,14.4 l3.3,1.9 M6.1,26.5 l3.3,0.0 M3.5,10.6 l1.5,2.6 M20.5,3.9 l2.5,1.4 M7.5,14.4 l1.1,1.9 M2.0,8.7 l2.2,0.0 M14.9,18.2 l1.4,2.3 M8.2,18.7 l4.4,0.0 M7.6,17.3 l1.1,1.9 M16.4,5.2 l2.1,-2.1 M19.5,14.4 l2.2,2.2 M11.7,24.1 l3.6,-2.1 M5.9,12.4 l3.2,1.9 M8.1,7.8 l2.4,0.0 M4.9,7.8 l2.0,3.5 M3.9,9.0 l2.2,2.2 M7.9,16.2 l2.6,2.6 M11.0,17.4 l3.1,0.0 M18.6,25.8 l2.6,-1.5 M8.4,14.0 l1.9,-1.1 M1.4,7.2 l1.6,1.6 M12.8,4.6 l2.4,2.4 M20.2,17.3 l4.2,0.0 M13.1,5.7 l0.0,4.4 M12.8,13.9 l4.1,0.0 M21.2,13.6 l1.4,2.4 M3.1,20.7 l0.0,3.2 M14.7,14.9 l3.1,-3.1 M10.6,6.2 h2.2 v2.2 h-2.2 z M10.9,3.6 h2.2 v2.2 h-2.2 z M10.6,24.5 h2.2 v2.2 h-2.2 z M17.3,18.3 h2.2 v2.2 h-2.2 z M5.2,11.1 h2.2 v2.2 h-2.2 z M3.3,20.0 h2.2 v2.2 h-2.2 z" stroke-width="1.3"/><path transform="translate(576.7,158)" d="M6.9,5.8 l2.2,0.0 M11.4,11.1 l4.3,0.0 M4.6,4.1 l1.9,-1.1 M1.9,12.6 l4.4,0.0 M13.4,16.6 l3.4,0.0 M8.4,26.4 l3.4,0.0 M2.8,12.5 l3.4,0.0 M11.9,19.1 l3.5,0.0 M13.6,11.3 l3.4,0.0 M13.2,14.4 l3.4,-2.0 M9.9,25.1 l2.4,1.4 M16.9,19.5 l1.6,-1.6 M6.4,14.4 l3.3,1.9 M6.1,26.5 l3.3,0.0 M3.5,10.6 l1.5,2.6 M20.5,3.9 l2.5,1.4 M7.5,14.4 l1.1,1.9 M2.0,8.7 l2.2,0.0 M14.9,18.2 l1.4,2.3 M8.2,18.7 l4.4,0.0 M7.6,17.3 l1.1,1.9 M16.4,5.2 l2.1,-2.1 M19.5,14.4 l2.2,2.2 M11.7,24.1 l3.6,-2.1 M5.9,12.4 l3.2,1.9 M8.1,7.8 l2.4,0.0 M4.9,7.8 l2.0,3.5 M3.9,9.0 l2.2,2.2 M7.9,16.2 l2.6,2.6 M11.0,17.4 l3.1,0.0 M18.6,25.8 l2.6,-1.5 M8.4,14.0 l1.9,-1.1 M1.4,7.2 l1.6,1.6 M12.8,4.6 l2.4,2.4 M20.2,17.3 l4.2,0.0 M13.1,5.7 l0.0,4.4 M12.8,13.9 l4.1,0.0 M21.2,13.6 l1.4,2.4 M3.1,20.7 l0.0,3.2 M14.7,14.9 l3.1,-3.1 M10.6,6.2 h2.2 v2.2 h-2.2 z M10.9,3.6 h2.2 v2.2 h-2.2 z M10.6,24.5 h2.2 v2.2 h-2.2 z M17.3,18.3 h2.2 v2.2 h-2.2 z M5.2,11.1 h2.2 v2.2 h-2.2 z M3.3,20.0 h2.2 v2.2 h-2.2 z" stroke-width="1.3"/><path transform="translate(598.0,158)" d="M6.9,5.8 l2.2,0.0 M11.4,11.1 l4.3,0.0 M4.6,4.1 l1.9,-1.1 M1.9,12.6 l4.4,0.0 M13.4,16.6 l3.4,0.0 M8.4,26.4 l3.4,0.0 M2.8,12.5 l3.4,0.0 M11.9,19.1 l3.5,0.0 M13.6,11.3 l3.4,0.0 M13.2,14.4 l3.4,-2.0 M9.9,25.1 l2.4,1.4 M16.9,19.5 l1.6,-1.6 M6.4,14.4 l3.3,1.9 M6.1,26.5 l3.3,0.0 M3.5,10.6 l1.5,2.6 M20.5,3.9 l2.5,1.4 M7.5,14.4 l1.1,1.9 M2.0,8.7 l2.2,0.0 M14.9,18.2 l1.4,2.3 M8.2,18.7 l4.4,0.0 M7.6,17.3 l1.1,1.9 M16.4,5.2 l2.1,-2.1 M19.5,14.4 l2.2,2.2 M11.7,24.1 l3.6,-2.1 M5.9,12.4 l3.2,1.9 M8.1,7.8 l2.4,0.0 M4.9,7.8 l2.0,3.5 M3.9,9.0 l2.2,2.2 M7.9,16.2 l2.6,2.6 M11.0,17.4 l3.1,0.0 M18.6,25.8 l2.6,-1.5 M8.4,14.0 l1.9,-1.1 M1.4,7.2 l1.6,1.6 M12.8,4.6 l2.4,2.4 M20.2,17.3 l4.2,0.0 M13.1,5.7 l0.0,4.4 M12.8,13.9 l4.1,0.0 M21.2,13.6 l1.4,2.4 M3.1,20.7 l0.0,3.2 M14.7,14.9 l3.1,-3.1 M10.6,6.2 h2.2 v2.2 h-2.2 z M10.9,3.6 h2.2 v2.2 h-2.2 z M10.6,24.5 h2.2 v2.2 h-2.2 z M17.3,18.3 h2.2 v2.2 h-2.2 z M5.2,11.1 h2.2 v2.2 h-2.2 z M3.3,20.0 h2.2 v2.2 h-2.2 z" stroke-width="1.3"/><path transform="translate(619.3,158)" d="M6.9,5.8 l2.2,0.0 M11.4,11.1 l4.3,0.0 M4.6,4.1 l1.9,-1.1 M1.9,12.6 l4.4,0.0 M13.4,16.6 l3.4,0.0 M8.4,26.4 l3.4,0.0 M2.8,12.5 l3.4,0.0 M11.9,19.1 l3.5,0.0 M13.6,11.3 l3.4,0.0 M13.2,14.4 l3.4,-2.0 M9.9,25.1 l2.4,1.4 M16.9,19.5 l1.6,-1.6 M6.4,14.4 l3.3,1.9 M6.1,26.5 l3.3,0.0 M3.5,10.6 l1.5,2.6 M20.5,3.9 l2.5,1.4 M7.5,14.4 l1.1,1.9 M2.0,8.7 l2.2,0.0 M14.9,18.2 l1.4,2.3 M8.2,18.7 l4.4,0.0 M7.6,17.3 l1.1,1.9 M16.4,5.2 l2.1,-2.1 M19.5,14.4 l2.2,2.2 M11.7,24.1 l3.6,-2.1 M5.9,12.4 l3.2,1.9 M8.1,7.8 l2.4,0.0 M4.9,7.8 l2.0,3.5 M3.9,9.0 l2.2,2.2 M7.9,16.2 l2.6,2.6 M11.0,17.4 l3.1,0.0 M18.6,25.8 l2.6,-1.5 M8.4,14.0 l1.9,-1.1 M1.4,7.2 l1.6,1.6 M12.8,4.6 l2.4,2.4 M20.2,17.3 l4.2,0.0 M13.1,5.7 l0.0,4.4 M12.8,13.9 l4.1,0.0 M21.2,13.6 l1.4,2.4 M3.1,20.7 l0.0,3.2 M14.7,14.9 l3.1,-3.1 M10.6,6.2 h2.2 v2.2 h-2.2 z M10.9,3.6 h2.2 v2.2 h-2.2 z M10.6,24.5 h2.2 v2.2 h-2.2 z M17.3,18.3 h2.2 v2.2 h-2.2 z M5.2,11.1 h2.2 v2.2 h-2.2 z M3.3,20.0 h2.2 v2.2 h-2.2 z" stroke-width="1.3"/><path transform="translate(640.6,158)" d="M6.9,5.8 l2.2,0.0 M11.4,11.1 l4.3,0.0 M4.6,4.1 l1.9,-1.1 M1.9,12.6 l4.4,0.0 M13.4,16.6 l3.4,0.0 M8.4,26.4 l3.4,0.0 M2.8,12.5 l3.4,0.0 M11.9,19.1 l3.5,0.0 M13.6,11.3 l3.4,0.0 M13.2,14.4 l3.4,-2.0 M9.9,25.1 l2.4,1.4 M16.9,19.5 l1.6,-1.6 M6.4,14.4 l3.3,1.9 M6.1,26.5 l3.3,0.0 M3.5,10.6 l1.5,2.6 M20.5,3.9 l2.5,1.4 M7.5,14.4 l1.1,1.9 M2.0,8.7 l2.2,0.0 M14.9,18.2 l1.4,2.3 M8.2,18.7 l4.4,0.0 M7.6,17.3 l1.1,1.9 M16.4,5.2 l2.1,-2.1 M19.5,14.4 l2.2,2.2 M11.7,24.1 l3.6,-2.1 M5.9,12.4 l3.2,1.9 M8.1,7.8 l2.4,0.0 M4.9,7.8 l2.0,3.5 M3.9,9.0 l2.2,2.2 M7.9,16.2 l2.6,2.6 M11.0,17.4 l3.1,0.0 M18.6,25.8 l2.6,-1.5 M8.4,14.0 l1.9,-1.1 M1.4,7.2 l1.6,1.6 M12.8,4.6 l2.4,2.4 M20.2,17.3 l4.2,0.0 M13.1,5.7 l0.0,4.4 M12.8,13.9 l4.1,0.0 M21.2,13.6 l1.4,2.4 M3.1,20.7 l0.0,3.2 M14.7,14.9 l3.1,-3.1 M10.6,6.2 h2.2 v2.2 h-2.2 z M10.9,3.6 h2.2 v2.2 h-2.2 z M10.6,24.5 h2.2 v2.2 h-2.2 z M17.3,18.3 h2.2 v2.2 h-2.2 z M5.2,11.1 h2.2 v2.2 h-2.2 z M3.3,20.0 h2.2 v2.2 h-2.2 z" stroke-width="1.3"/></g>
<g stroke="#000" fill="none" stroke-width="1.1"><path d="M458.8,203.4 L468.3,203.4"/><path d="M468.3,203.4 L468.3,237.4 L458.3,237.8"/><path d="M459.3,223 L459.3,236" stroke-dasharray="1.5,2.5"/><path d="M455.3,220 L459.3,212 M472.3,220 L468.3,212" stroke-dasharray="1.5,1.5"/></g>
<g stroke="#000" fill="none" stroke-width="1.1"><path d="M525.0,203.4 L531.5999999999999,203.4"/><path d="M522.3,237.8 L533.8,237.4"/><path d="M532.3,220 L532.3,236" stroke-dasharray="1.5,2.5"/><path d="M524.3,223 L524.3,236" stroke-dasharray="1.5,2.5"/><path d="M520.3,220 L524.3,212 M537.3,220 L533.3,212" stroke-dasharray="1.5,1.5"/></g>
<path d="M463.3,239 L463.3,322" stroke="#000" fill="none" stroke-width="1.1" stroke-dasharray="5,4"/>
<path d="M528.6,239 L528.6,322" stroke="#000" fill="none" stroke-width="1.1" stroke-dasharray="5,4"/>
<path d="M547.4,218 L547.4,259.7" stroke="#000" stroke-width="3"/><path d="M547.40,193.00 L553.20,220.00 L541.60,220.00 Z" fill="#000"/>
<text class="ser" font-weight="bold" font-size="24" text-anchor="middle" transform="translate(568.5,240) scale(0.9,1)">1</text>
<path d="M434,292.3 L434,277.2 Q434,274.2 437,274.2 L543.3,274.2 Q546.3,274.2 546.3,277.2 L546.3,292.3 L543.4,292.3 L543.4,280 Q543.4,277.1 540.5,277.1 L439.7,277.1 Q436.8,277.1 436.8,280 L436.8,292.3 Z" fill="#fff" stroke="#000" stroke-width="1.5"/>
<path d="M375.6,285.8 L444.7,285.8 M534.7,285.8 L604.8,285.8 M375.6,285.8 L454.7,403.3 M604.8,285.8 L522.7,403.3" stroke="#000" fill="none" stroke-width="1.1" stroke-dasharray="5,4"/>
<g stroke="#000" fill="none" stroke-width="1"><path d="M455.8,308.8 L470.8,308.8" stroke-width="2.2"/><path d="M463.3,310 L463.3,322" stroke-dasharray="3,2"/><path d="M461.3,323 L461.3,349 M465.5,324 L465.5,348" stroke-dasharray="1.2,1" stroke-width="1"/><path d="M463.3,325 L463.3,347" stroke-dasharray="0.8,1.6" stroke-width="0.9"/><path d="M458.8,351 Q458.8,349.3 460.3,349.3 L466.3,349.3 Q467.8,349.3 467.8,351" stroke-width="1.1"/></g>
<g stroke="#000" fill="none" stroke-width="1"><path d="M521.1,308.8 L536.1,308.8" stroke-width="2.2"/><path d="M528.6,310 L528.6,322" stroke-dasharray="3,2"/><path d="M526.6,323 L526.6,349 M530.8000000000001,324 L530.8000000000001,348" stroke-dasharray="1.2,1" stroke-width="1"/><path d="M528.6,325 L528.6,347" stroke-dasharray="0.8,1.6" stroke-width="0.9"/><path d="M524.1,351 Q524.1,349.3 525.6,349.3 L531.6,349.3 Q533.1,349.3 533.1,351" stroke-width="1.1"/></g>
<path d="M500.5,322 L500.5,376" stroke="#000" stroke-width="2.2"/><path d="M500.50,300.50 L505.70,326.50 L495.30,326.50 Z" fill="#000"/>
<path d="M491,355 A21.4,6.3 0 1 1 515,355" stroke="#000" fill="none" stroke-width="3.2"/><path d="M491,355 A21.4,6.3 0 1 1 515,355" stroke="#fff" fill="none" stroke-width="1.2"/>
<path d="M504.00,355.50 L511.66,351.72 L512.26,357.69 Z" fill="#000"/>
<text class="ser" font-weight="bold" font-size="24" text-anchor="middle" transform="translate(472,375) scale(0.9,1)">2</text>
<path d="M454.9,403.3 L524.9,403.3 L524.9,518.7 Q524.9,520.7 522.9,520.7 L456.9,520.7 Q454.9,520.7 454.9,518.7 Z" fill="#fff" stroke="#000" stroke-width="1.6"/>
<path d="M455.4,411.8 L457,415.4 L459.8,415.4 M520.2,411 L516,415.4 L520,415.4" stroke="#000" fill="none" stroke-width="1"/>
<g stroke="#000" fill="none" stroke-width="1.4"><path d="M466.9,402.9 C474,394 488,385.5 503.6,384.9 L540,384.5 C548,384.8 555,386.5 560,385.5 C568,383.5 574,375 580,368 L584,362" stroke-width="1.8"/><path d="M470.5,402.9 C478,396 490,388.8 503.6,388.3 L540,388.5 C550,388.8 560,388.5 569,386.5 C576,381 581,374 586.4,365.2"/><path d="M488.3,402.9 C505,396 520,391 535,390.5 L545,391.5 C556,392.5 566,391.5 572,387 C578,381 583,374 588.4,368.4"/><path d="M515.9,402.9 C530,400 545,398 557.7,396 C566,394.5 570,392 575,387 C582,380 590,372 598,366"/></g>
<g stroke="#000" stroke-width="1.3" fill="#fff"><path d="M572.5,340.8 L626,340.8 L650.3,309.8 L597,309.8 Z"/><path d="M572.5,340.8 L572.5,343.8 L626,343.8 L650.3,312.8 L650.3,309.8"/><path d="M624.5,316.7 L638.6,299.8 L638.6,313.9 L624.5,331.6 Z"/><rect x="596.3" y="293.3" width="8.5" height="9" /><rect x="610.8" y="293.3" width="7.7" height="9"/><rect x="624.5" y="293.3" width="8.1" height="9"/><path d="M589.4,316.7 L638.6,299.8" fill="none"/><rect x="586.6" y="316.7" width="37.9" height="14.9"/><rect x="589.4" y="301.4" width="8.5" height="14"/><rect x="604.8" y="301.4" width="7.2" height="14"/><rect x="618" y="301.4" width="8" height="14"/><rect x="588.5" y="320" width="7" height="7"/><rect x="602.5" y="320" width="7" height="7"/><rect x="616" y="320" width="7" height="7"/></g>
<g stroke="#000" fill="none" stroke-width="1.2"><path d="M590,324 L586,362 M593,324 L589,362"/><path d="M618.5,324 L598,362 M621.5,324 L601,362"/><path d="M604,333 L592,362 M607,333 L595,362"/><ellipse cx="591.6" cy="355.5" rx="12" ry="10.5" stroke-width="3"/><ellipse cx="591.6" cy="355.5" rx="12" ry="10.5" stroke="#fff" stroke-width="1"/><path d="M601.3,365 L627.9,361" stroke-dasharray="2.5,1.5" stroke-width="1.8"/></g>
<path d="M606,322 L606,338" stroke="#000" stroke-width="3.5"/><path d="M606.00,341.00 L602.00,335.00 L610.00,335.00 Z" fill="#000"/>
<path d="M641.5,325.5 L679,297.5 M642,326.5 L746,320" stroke="#000" fill="none" stroke-width="1.3"/>
<ellipse cx="753" cy="256.7" rx="86.2" ry="49.6" transform="rotate(-33.9 753 256.7)" fill="#fff" stroke="#000" stroke-width="1.3"/>
<g clip-path="url(#clipEll)"><g transform="translate(670,190) scale(0.13710)" stroke="#000" fill="none" stroke-width="8.02" stroke-linejoin="round" stroke-linecap="round"><path d="M75,790 L330,650"/><path d="M90,825 L420,660"/><path d="M110,850 L430,690"/><path d="M150,890 L510,715"/><path d="M180,908 L585,760"/><path d="M230,935 L990,600"/><path d="M260,952 L1000,630"/><path d="M800,360 L1160,175"/><path d="M810,385 L1165,205"/><path d="M830,405 L1170,255"/><path d="M900,470 L1170,330"/><path d="M940,495 L1170,380"/><path d="M310,645 L555,525 M310,645 L570,815 L990,600 L940,560"/><path d="M330,700 L420,655 M420,655 L500,710 M500,710 L575,760"/><path d="M470,615 L560,580 L480,640 L560,610"/><path d="M600,730 L640,755 L700,730"/></g><g transform="translate(670,190) scale(0.13710)" stroke="#000" fill="none" stroke-width="21.88" stroke-linejoin="round" stroke-linecap="round"><path d="M195,725 L310,660"/><path d="M225,862 L300,822"/><path d="M340,800 L440,745"/><path d="M860,415 L900,395 M930,380 L970,360 M1000,345 L1040,325 M1060,315 L1090,300"/></g></g>
<circle cx="749.5" cy="282" r="4.5" fill="#fff" stroke="#000" stroke-width="1"/><path d="M746.5,284 L752,279 M747.5,286 L753,281" stroke="#000" stroke-width="0.8"/>
<g transform="translate(670,190) scale(0.13710)" stroke="#000" fill="none" stroke-width="9.12" stroke-linejoin="round" stroke-linecap="round"><path d="M548,455 L548,600 L760,690 L940,590 L940,470 L850,430 L548,455 Z" fill="#fff"/><path d="M548,455 L760,540 L940,470 M760,540 L760,690 M620,485 L620,630 M690,515 L690,660"/><path d="M565,490 L605,505 L605,600 L565,585 Z M635,520 L675,535 L675,630 L635,615 Z M705,550 L745,565 L745,665 L705,650 Z"/><path d="M605,390 L605,455 Q632,470 660,455 L660,390 Q632,375 605,390 Z" fill="#fff"/><path d="M710,330 L710,395 Q737,410 765,395 L765,330 Q737,315 710,330 Z" fill="#fff"/><path d="M770,380 L770,445 Q797,460 825,445 L825,380 Q797,365 770,380 Z" fill="#fff"/><path d="M675,430 L675,495 Q700,510 725,495 L725,430 Q700,415 675,430 Z" fill="#fff"/><path d="M745,480 L745,545 Q772,560 800,545 L800,480 Q772,465 745,480 Z" fill="#fff"/><path d="M840,425 L840,490 Q867,505 895,490 L895,425 Q867,410 840,425 Z" fill="#fff"/><path d="M605,390 Q632,405 660,390 M710,330 Q737,345 765,330 M770,380 Q797,395 825,380 M675,430 Q700,445 725,430 M745,480 Q772,495 800,480 M840,425 Q867,440 895,425"/><path d="M605,95 L645,95 L645,200 L605,200 Z" fill="#fff"/><path d="M612,110 L612,190 M605,200 L645,200 L640,215 L610,215 Z M620,215 L620,330 L628,350 L635,330 L635,215"/><path d="M545,300 C560,270 600,262 615,262 M640,262 C670,262 705,275 712,300"/></g>
<path d="M746.00,233.00 L744.90,227.97 L749.69,229.41 Z" fill="#000"/><path d="M767.50,233.00 L763.81,229.41 L768.60,227.97 Z" fill="#000"/>
<text class="ser" font-weight="bold" font-size="22" text-anchor="middle" transform="translate(717,251) scale(0.95,1)">3</text>
<text class="ser" font-weight="bold" font-size="23" text-anchor="middle" transform="translate(296,425.6) scale(0.95,1)">4</text>
<path d="M311.4,418 L364,418" stroke="#000" stroke-width="2.4"/><path d="M388.00,418.00 L361.00,423.40 L361.00,412.60 Z" fill="#000"/>
<path d="M331,405 A8.4,21.5 0 1 1 333,432" stroke="#000" fill="none" stroke-width="3.2"/><path d="M331,405 A8.4,21.5 0 1 1 333,432" stroke="#fff" fill="none" stroke-width="1.2"/>
<path d="M333.00,421.00 L336.00,429.00 L330.00,429.00 Z" fill="#000"/>
<g stroke="#000" fill="none" stroke-width="0.9"><path d="M399.5,409.3 Q392.5,415.6 399.5,421.9 Z" fill="#000" stroke="none"/><rect x="399.5" y="413.4" width="11.5" height="4.4" stroke-width="1.1"/><path d="M400.3,413.6 L401.7,417.6"/><path d="M402.3,413.6 L403.7,417.6"/><path d="M404.3,413.6 L405.7,417.6"/><path d="M406.3,413.6 L407.7,417.6"/><path d="M408.3,413.6 L409.7,417.6"/><path d="M410.3,413.6 L411.7,417.6"/></g>
<g stroke="#000" fill="none" stroke-width="0.9"><path d="M581.5,409.3 Q588.5,415.6 581.5,421.9 Z" fill="#000" stroke="none"/><rect x="568.6" y="413.4" width="12.899999999999977" height="4.4" stroke-width="1.1"/><path d="M569.4,413.6 L570.8,417.6"/><path d="M571.4,413.6 L572.8,417.6"/><path d="M573.4,413.6 L574.8,417.6"/><path d="M575.4,413.6 L576.8,417.6"/><path d="M577.4,413.6 L578.8,417.6"/><path d="M579.4,413.6 L580.8,417.6"/></g>
<path d="M412,415.6 L454,415.6 M525,415.6 L568,415.6" stroke="#000" fill="none" stroke-width="1.1" stroke-dasharray="5,4"/>
<path d="M482,521.8 L498,521.8" stroke="#000" stroke-width="1.6"/>
<path d="M487.6,523.5 L487.6,530.6 L492.6,530.6 L492.6,523.5" stroke="#000" fill="none" stroke-width="1"/>
<path d="M488.5,530 L488.5,875 M491.5,530 L491.5,875" stroke="#000" fill="none" stroke-width="1"/>
<path d="M483.3,891 L483.3,877.5 Q483.3,875 486,875 L494,875 Q496.6,875 496.6,877.5 L496.6,891" stroke="#000" fill="#fff" stroke-width="1.5"/>
<rect x="454.9" y="891" width="70" height="105.9" fill="#fff" stroke="#000" stroke-width="1.6"/>
<rect x="466.3" y="997.8" width="47.4" height="6.8" fill="#000"/>
<path d="M470,999.5 L476,999.5 M483,999.5 L493,999.5 M501,999.5 L508,999.5 M474,1001.5 L480,1001.5 M488,1001.5 L497,1001.5 M503,1001.5 L510,1001.5 M478,1003 L486,1003 M492,1003 L500,1003" stroke="#fff" stroke-width="0.9"/>
<path d="M321.1,1335 L321.1,1387.7" stroke="#000" stroke-width="2.2"/><path d="M321.10,1310.80 L325.70,1337.40 L316.50,1337.40 Z" fill="#000"/>
<path d="M313,1367 A22,7.7 0 1 1 334,1367.5" stroke="#000" fill="none" stroke-width="3.0"/><path d="M313,1367 A22,7.7 0 1 1 334,1367.5" stroke="#fff" fill="none" stroke-width="1.1"/>
<path d="M324.00,1367.50 L331.66,1363.72 L332.26,1369.69 Z" fill="#000"/>
<text class="sans" font-weight="bold" font-size="21" text-anchor="middle" transform="translate(290.4,1368.4) scale(0.9,1)">5</text>
<path d="M350,1361.9 L450.6,1361.9" stroke="#000" stroke-width="1.5"/>
<rect x="454.6" y="1358.9" width="70.7" height="6.4" fill="#fff" stroke="#000" stroke-width="1.5"/>
<path d="M417.2,1582 L417.2,1625.6" stroke="#000" stroke-width="2.6"/><path d="M417.20,1558.70 L422.40,1584.90 L412.00,1584.90 Z" fill="#000"/>
<text class="sans" font-weight="bold" font-size="22" text-anchor="middle" transform="translate(385.7,1604.3) scale(0.9,1)">6</text>
<g stroke="#000" fill="none"><circle cx="238.7" cy="558.4" r="35" stroke-width="1.5"/><path d="M206.3,549.3 L270.8,549.3 M206.3,566.2 L270.8,566.2" stroke-width="1.2"/><rect x="215.4" y="555.4" width="10.9" height="5.4" rx="2.7" stroke-width="1.2"/><rect x="251" y="555.4" width="11.6" height="5.4" rx="2.7" stroke-width="1.2"/><path d="M204.5,553 Q203,558.5 204.5,564 M273,553 Q274.5,558.5 273,564" stroke-width="1.2"/><path d="M221.2,564.4 L221.2,635.8 M256.3,563 L256.3,635.8 M206.6,566.9 L206.6,676.3 M271.3,566.9 L271.3,676.3" stroke-width="1.3"/><path d="M221.2,634 L295.2,634 M206.6,673.9 L298.3,673.9" stroke-width="1.3"/></g>
<path d="M221.50,634.00 L235.00,630.80 L235.00,637.20 Z" fill="#000"/><path d="M256.00,634.00 L242.50,637.20 L242.50,630.80 Z" fill="#000"/><path d="M207.00,673.90 L220.40,670.70 L220.40,677.10 Z" fill="#000"/><path d="M271.00,673.90 L257.60,677.10 L257.60,670.70 Z" fill="#000"/>
<text class="sans" font-weight="bold" font-size="22" text-anchor="start" transform="translate(297.3,642.5) scale(0.93,1)">30</text>
<text class="sans" font-weight="bold" font-size="22" text-anchor="start" transform="translate(300.3,681.8) scale(0.87,1)">55</text>
<g stroke="#000" fill="none" stroke-width="1.3"><path d="M826.9,406 L912.4,406 M826.9,403.3 L826.9,445.8 M896.8,403.3 L896.8,445.8"/><path d="M900,448.5 L1072.8,448.5 M897,565 L939.8,565"/><path d="M937.1,448.5 L937.1,502 M937.1,524 L937.1,565"/><path d="M934.3,1157.6 L1025,1157.6 M971.4,1595 L1073,1595"/><path d="M1022,1157.6 L1022,1401 M1022,1423 L1022,1595"/><path d="M1069.8,448.5 L1069.8,917.2 M1069.8,938.7 L1069.8,1595"/><path d="M756.4,1598.5 L756.4,1629.6 M968,1598.5 L968,1629.6 M756.4,1626 L830,1626 M889,1626 L968,1626"/></g>
<path d="M827.50,406.00 L839.50,403.60 L839.50,408.40 Z" fill="#000"/><path d="M896.30,406.00 L884.30,408.40 L884.30,403.60 Z" fill="#000"/>
<path d="M937.10,449.00 L939.50,461.00 L934.70,461.00 Z" fill="#000"/><path d="M937.10,564.50 L934.70,552.50 L939.50,552.50 Z" fill="#000"/>
<path d="M1069.80,449.00 L1072.20,461.00 L1067.40,461.00 Z" fill="#000"/><path d="M1069.80,1594.50 L1067.40,1582.50 L1072.20,1582.50 Z" fill="#000"/>
<path d="M1022.00,1158.10 L1024.40,1170.10 L1019.60,1170.10 Z" fill="#000"/><path d="M1022.00,1594.50 L1019.60,1582.50 L1024.40,1582.50 Z" fill="#000"/>
<path d="M757.00,1626.00 L769.00,1623.60 L769.00,1628.40 Z" fill="#000"/><path d="M967.40,1626.00 L955.40,1628.40 L955.40,1623.60 Z" fill="#000"/>
<text class="ser" font-weight="bold" font-size="21" text-anchor="start" transform="translate(913.3,414.3) scale(0.95,1)">Φ</text><text class="ser" font-weight="bold" font-size="23" text-anchor="start" transform="translate(933.3,414.3) scale(0.95,1)">60</text>
<text class="ser" font-weight="bold" font-size="24" text-anchor="start" transform="translate(920,521.4) scale(0.96,1)">100</text>
<text class="ser" font-weight="bold" font-size="25.5" text-anchor="start" transform="translate(1025.2,937.3) scale(0.93,1)">500-1330</text>
<text class="ser" font-weight="bold" font-size="25" text-anchor="start" transform="translate(1005.2,1421.2) scale(0.94,1)">370</text>
<text class="ser" font-weight="bold" font-size="21" text-anchor="start" transform="translate(832.8,1633.8) scale(0.95,1)">Φ</text><text class="ser" font-weight="bold" font-size="22" text-anchor="start" transform="translate(854.5,1633.8) scale(0.95,1)">180</text>
<path d="M826.9,448.5 L896.8,448.5 L896.8,564 Q896.8,566 894.8,566 L828.9,566 Q826.9,566 826.9,564 Z" fill="#fff" stroke="#000" stroke-width="1.6"/>
<path d="M855,567.2 L869.8,567.2" stroke="#000" stroke-width="1.6"/><path d="M860.5,568 L860.5,575.7 L864.5,575.7 L864.5,568" stroke="#000" fill="none" stroke-width="1"/>
<path d="M860.5,575 L860.5,1142 M863.5,575 L863.5,1142" stroke="#000" fill="none" stroke-width="1"/>
<path d="M854.4,1157.6 L854.4,1144.5 Q854.4,1141.9 857,1141.9 L866.8,1141.9 Q869.4,1141.9 869.4,1144.5 L869.4,1157.6" stroke="#000" fill="#fff" stroke-width="1.3"/>
<rect x="827.1" y="1157.6" width="70.2" height="106.9" fill="#fff" stroke="#000" stroke-width="1.6"/>
<g id="flower"><g transform="translate(515,1360) scale(0.06452)" stroke="#000" fill="none" stroke-width="24.80" stroke-linejoin="round" stroke-linecap="round"><path d="M150,350 L320,350 M150,350 L260,620 L400,800 L520,850 L750,850 L870,800 L915,720 L900,550 L840,300 L760,210 L710,240"/><path d="M320,350 L360,300 L320,225 L400,270 L480,330 L500,420 L540,470"/><path d="M320,350 L400,450 L540,520 L580,600 L530,730"/><path d="M270,640 L370,580 L460,620 L530,730"/><path d="M530,730 L620,600 L730,540 L850,600 L880,720"/><path d="M610,740 L650,620 L740,570 L830,630 L875,700"/><path d="M500,470 L500,190 L540,160 L610,240 L700,320 L780,520"/><path d="M600,170 L620,140 L670,230 L690,300"/><path d="M710,240 L790,500 L880,600"/><path d="M645,850 L640,1870 M700,850 L686,1870"/></g><g transform="translate(370,1440) scale(0.10484)" stroke="#000" fill="none" stroke-width="14.31" stroke-linejoin="round" stroke-linecap="round"><path d="M180,765 L120,700 L80,600 L75,500 L90,465 L170,435 L230,390 L310,290 L330,300 L350,345 L370,340 L390,240 L440,235 L490,240 L505,205 L530,200 L580,215 L680,280 L730,290 L820,320 L880,355 L920,400 L915,480 L870,540 L800,610 L790,640 L760,680 L750,760 L630,790 L560,830 L520,880 L470,945 L420,960 L340,950 L280,910 L230,850 L200,780 Z"/><path d="M200,770 L500,700 L740,730"/><path d="M210,685 L240,590 L280,560 L480,690 L540,630 L560,625 L720,715"/><path d="M480,690 L500,560 L550,470 L570,320 L640,310 L650,285 L680,280"/><path d="M730,290 L740,90 L800,95 L830,65 L855,85 L880,75 L900,65 L1030,190 L1120,260 L1130,350 L1100,430 L1030,485 L960,520 L920,590 L850,700 L830,800"/><path d="M1030,190 L980,210 L960,260 L940,380 L920,480 L870,550 L810,610 L800,650"/><path d="M800,650 L810,710 L900,615"/><path d="M630,815 L770,820 L940,1049 M830,800 L1000,1049"/></g><g transform="translate(425,1480) scale(0.14113)" stroke="#000" fill="none" stroke-width="9.92" stroke-linejoin="round" stroke-linecap="round"><path d="M180,320 L350,560 L420,660 L480,800 L530,980 L530,1220"/><path d="M230,310 L400,570 L470,690 L530,850 L560,1000 L570,1180"/><path d="M930,0 C925,200 910,380 870,560 C840,700 780,850 720,950 C680,1020 640,1100 560,1220 C500,1290 420,1350 300,1378 L85,1378 L85,1410 L300,1400 C430,1370 520,1300 590,1200 C650,1110 700,1030 740,950 C790,850 860,700 890,540 C920,380 940,200 950,0"/><path d="M600,1190 C680,1130 800,1050 930,1035 C990,1030 1030,1040 1050,1045 C980,1050 900,1070 800,1115 C720,1150 660,1180 620,1205"/><path d="M200,1400 C350,1405 480,1430 550,1470 C580,1485 610,1505 625,1515 C560,1480 480,1445 300,1410"/><path d="M320,1095 C360,1120 390,1160 390,1220 C390,1290 350,1340 300,1370 M320,1100 C350,1160 350,1230 330,1290 C310,1330 270,1360 230,1370"/><path d="M215,770 C320,765 400,800 450,850 C490,900 510,950 520,990 C490,930 450,880 400,850 C340,810 280,790 215,775"/><path d="M25,540 C80,515 140,505 200,507 C290,515 360,570 400,640 C350,600 290,570 200,555 C130,545 70,545 25,540"/><path d="M430,600 C420,500 460,420 525,345 C500,420 480,500 460,680 M430,600 L440,520"/><path d="M910,390 C950,320 1020,250 1100,215 C1150,200 1200,195 1240,195 C1150,200 1050,230 980,290 C950,315 930,340 925,360"/><path d="M810,790 C860,720 930,670 1000,665 C1030,664 1050,668 1065,670 C990,668 920,690 870,730 C850,745 835,760 830,780"/></g><g transform="translate(425,1480) scale(0.14113)" stroke="#000" fill="none" stroke-width="14.17" stroke-linejoin="round" stroke-linecap="round"><path d="M520,85 C600,150 700,220 740,300 C770,380 780,560 787,740 M520,95 C600,170 690,240 720,320 C750,420 765,560 775,740"/></g><g transform="translate(360,1360) scale(0.19387)" stroke="#000" fill="none" stroke-width="7.74" stroke-linejoin="round" stroke-linecap="round"><path d="M890,430 C940,420 990,470 1020,550 M900,435 C960,440 990,500 1010,545"/><path d="M1120,425 C1070,460 1040,510 1035,560 M1120,428 C1080,470 1050,510 1040,545"/></g></g>
<use href="#flower" transform="translate(380.5,-85)"/>
</svg></body></html>
